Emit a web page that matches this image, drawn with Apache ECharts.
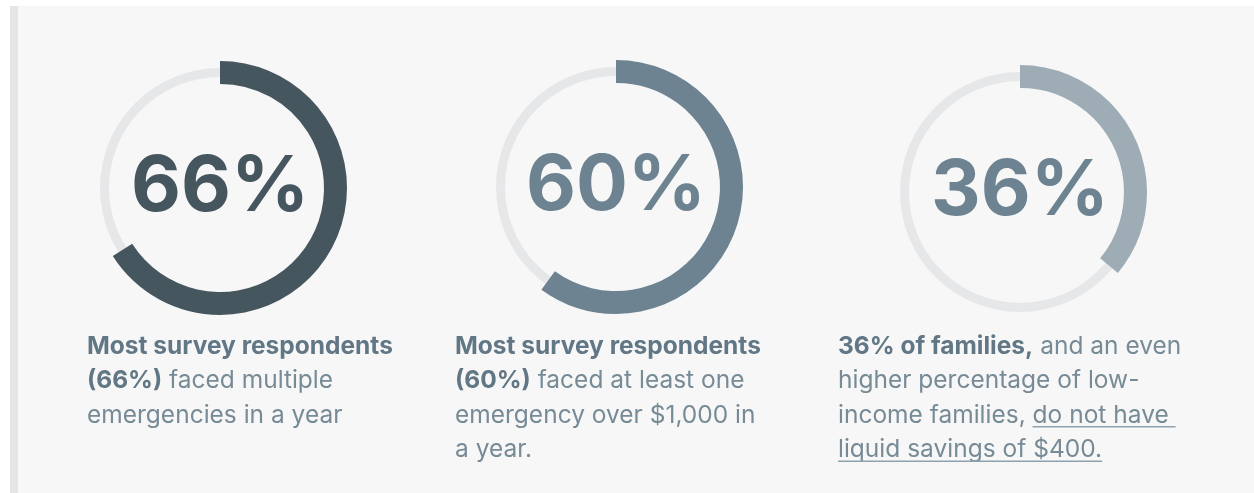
<!DOCTYPE html>
<html>
<head>
<meta charset="utf-8">
<script src="https://cdn.jsdelivr.net/npm/echarts@6/dist/echarts.min.js"></script>
<style>
  html, body { margin: 0; padding: 0; background: #ffffff; }
  #chart { width: 1254px; height: 493px; }
</style>
</head>
<body>
<div id="chart"></div>
<script>
// ---- data ----
const categories = ['Multiple emergencies', 'Emergency over $1,000', 'No $400 liquid savings'];
const values = [66, 60, 36];
// caption lines: segments [text, style]  (b = bold, r = regular, u = underlined regular)
const caption1 = [
  [['Most survey respondents', 'b']],
  [['(66%)', 'b'], [' faced multiple', 'r']],
  [['emergencies in a year', 'r']]
];
const caption2 = [
  [['Most survey respondents', 'b']],
  [['(60%)', 'b'], [' faced at least one', 'r']],
  [['emergency over $1,000 in', 'r']],
  [['a year.', 'r']]
];
const caption3 = [
  [['36% of families,', 'b'], [' and an even', 'r']],
  [['higher percentage of low-', 'r']],
  [['income families, ', 'r'], ['do not have ', 'u']],
  [['liquid savings of $400.', 'u']]
];
const captions = [caption1, caption2, caption3];

// ---- styles / layout ----
const FONT = 'Inter';
const arcColors = ['#46565f', '#6d8391', '#9eacb5'];
const pctColors = ['#46565f', '#6d8391', '#6d8391'];
const trackColor = '#e6e7e9';
const centers = [[220, 188], [616, 187], [1020, 192]];
const captionX = [87, 455, 838];
const captionTop = 329;
const LH = 34.5;
const CAP_SIZE = 24.5;
const boldColor = '#617785';
const regColor = '#778b97';

const chart = echarts.init(document.getElementById('chart'), null, { renderer: 'canvas' });

const series = [];
values.forEach((v, i) => {
  series.push({
    type: 'pie', name: categories[i] + ' track', silent: true, animation: false,
    center: centers[i], radius: [111, 120], z: 1,
    label: { show: false }, labelLine: { show: false },
    data: [{ value: 1, itemStyle: { color: trackColor } }]
  });
  series.push({
    type: 'pie', name: categories[i], silent: true, animation: false,
    center: centers[i], radius: [104, 127], startAngle: 90, clockwise: true, z: 2,
    labelLine: { show: false },
    data: [
      { value: v, name: categories[i], itemStyle: { color: arcColors[i] },
        label: { show: true, position: 'center', formatter: '{c}%',
                 fontFamily: FONT, fontWeight: 700, fontSize: 77, color: pctColors[i] } },
      { value: 100 - v, name: 'rest', itemStyle: { color: 'transparent' }, label: { show: false } }
    ]
  });
});

// measuring for underlines
const mctx = document.createElement('canvas').getContext('2d');
function fontOf(kind) { return (kind === 'b' ? '700 ' : '400 ') + CAP_SIZE + 'px ' + FONT; }
function measure(t, kind) { mctx.font = fontOf(kind); return mctx.measureText(t).width; }

const graphics = [
  { type: 'rect', z: -10, silent: true, shape: { x: 10, y: 6, width: 1244, height: 487 }, style: { fill: '#f7f7f7' } },
  { type: 'rect', z: -9, silent: true, shape: { x: 10, y: 6, width: 8, height: 487 }, style: { fill: '#e4e5e7' } }
];

const rich = {
  b: { fontFamily: FONT, fontWeight: 700, fontSize: CAP_SIZE, lineHeight: LH, fill: boldColor },
  r: { fontFamily: FONT, fontWeight: 400, fontSize: CAP_SIZE, lineHeight: LH, fill: regColor },
  u: { fontFamily: FONT, fontWeight: 400, fontSize: CAP_SIZE, lineHeight: LH, fill: regColor }
};

captions.forEach((cap, ci) => {
  const text = cap.map(line => line.map(([t, k]) => '{' + k + '|' + t.replace(/\|/g, '') + '}').join('')).join('\n');
  graphics.push({
    type: 'text', silent: true, z: 5,
    style: { x: captionX[ci], y: captionTop, text: text, rich: rich, verticalAlign: 'top', align: 'left' }
  });
  cap.forEach((line, li) => {
    let x = captionX[ci];
    line.forEach(([t, k]) => {
      const w = measure(t, k);
      if (k === 'u') {
        const y = captionTop + li * LH + LH / 2 + 11.5;
        graphics.push({ type: 'line', silent: true, z: 5,
          shape: { x1: x, y1: y, x2: x + w, y2: y },
          style: { stroke: '#8fa1ac', lineWidth: 1.5 } });
      }
      x += w;
    });
  });
});

chart.setOption({
  backgroundColor: '#ffffff',
  animation: false,
  series: series,
  graphic: graphics
});
</script>
</body>
</html>
